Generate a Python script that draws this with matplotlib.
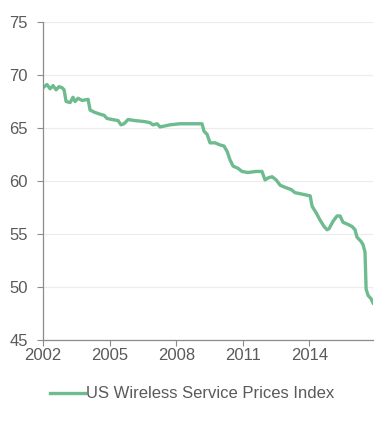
import matplotlib
matplotlib.use("Agg")
import matplotlib.pyplot as plt

# Data (decimal years, index values)
years = [2002.00, 2002.18, 2002.32, 2002.45, 2002.59, 2002.72, 2002.86, 2002.95,
         2003.04, 2003.22, 2003.35, 2003.44, 2003.58, 2003.76, 2004.03, 2004.12,
         2004.30, 2004.57, 2004.75, 2004.88, 2005.11, 2005.38, 2005.51, 2005.65,
         2005.83, 2006.14, 2006.59, 2006.82, 2006.95, 2007.14, 2007.27, 2007.50,
         2007.72, 2008.17, 2008.62, 2009.16, 2009.25, 2009.39, 2009.52, 2009.75,
         2009.97, 2010.15, 2010.29, 2010.42, 2010.56, 2010.78, 2010.96, 2011.23,
         2011.59, 2011.86, 2012.00, 2012.14, 2012.32, 2012.50, 2012.68, 2012.90,
         2013.17, 2013.35, 2013.58, 2013.80, 2014.03, 2014.12, 2014.30, 2014.48,
         2014.66, 2014.79, 2014.88, 2015.06, 2015.24, 2015.38, 2015.51, 2015.74,
         2015.92, 2016.05, 2016.14, 2016.32, 2016.41, 2016.50, 2016.55, 2016.64,
         2016.77, 2016.86]
values = [68.8, 69.1, 68.7, 69.0, 68.6, 68.9, 68.8, 68.6,
          67.5, 67.4, 67.9, 67.5, 67.8, 67.6, 67.7, 66.7,
          66.5, 66.3, 66.2, 65.9, 65.8, 65.7, 65.3, 65.4,
          65.8, 65.7, 65.6, 65.5, 65.3, 65.4, 65.1, 65.2,
          65.3, 65.4, 65.4, 65.4, 64.7, 64.4, 63.6, 63.6,
          63.4, 63.3, 62.8, 62.0, 61.4, 61.2, 60.9, 60.8,
          60.9, 60.9, 60.1, 60.3, 60.4, 60.1, 59.6, 59.4,
          59.2, 58.9, 58.8, 58.7, 58.6, 57.6, 57.0, 56.3,
          55.7, 55.4, 55.5, 56.2, 56.7, 56.7, 56.1, 55.9,
          55.7, 55.4, 54.7, 54.3, 54.0, 53.3, 49.8, 49.2,
          48.9, 48.5]
series_name = "US Wireless Service Prices Index"
x_ticks = [2002, 2005, 2008, 2011, 2014]
y_ticks = [45, 50, 55, 60, 65, 70, 75]

plt.rcParams['font.family'] = ['Liberation Sans', 'DejaVu Sans']
text_color = '#5a5a5a'
axis_color = '#8c8c8c'
line_color = '#6dbb8f'

fig = plt.figure(figsize=(3.85, 4.28), dpi=100)
ax = fig.add_axes([43/385, 1-340/428, (373-43)/385, (340-22)/428])

line, = ax.plot(years, values, color=line_color, lw=2.4, solid_joinstyle='round',
                label=series_name)

ax.set_xlim(2002, 2016.86)
ax.set_ylim(45, 75)
ax.set_xticks(x_ticks)
ax.set_xticklabels([str(t) for t in x_ticks])
ax.set_yticks(y_ticks)
ax.grid(axis='y', color='#ececec', lw=0.8)
ax.set_axisbelow(True)
for s in ['top', 'right']:
    ax.spines[s].set_visible(False)
for s in ['left', 'bottom']:
    ax.spines[s].set_color(axis_color)
    ax.spines[s].set_linewidth(0.9)
ax.tick_params(axis='both', colors=axis_color, labelcolor=text_color,
               labelsize=12, length=4, width=0.8)
ax.tick_params(axis='y', pad=7)
ax.tick_params(axis='x', pad=2)

fig.legend(handles=[line], loc='center', bbox_to_anchor=(192/385, 1-394/428),
           frameon=False, fontsize=12, handlelength=2.1, handletextpad=0.1,
           labelcolor=text_color)

fig.savefig("out.png", dpi=100)
